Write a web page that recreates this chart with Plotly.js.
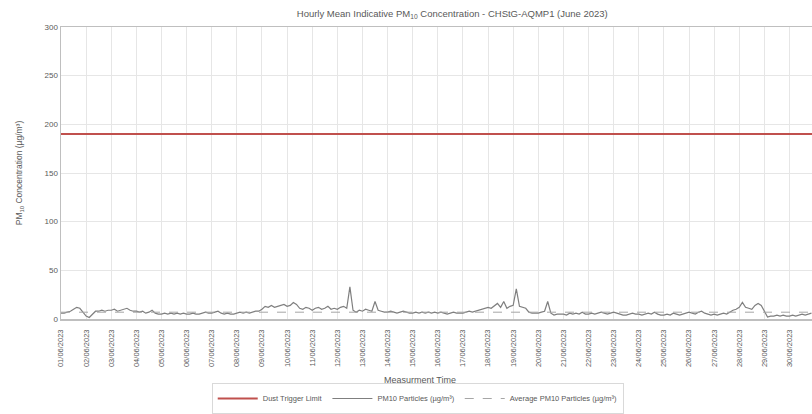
<!DOCTYPE html>
<html>
<head>
<meta charset="utf-8">
<script src="https://cdn.plot.ly/plotly-3.0.1.min.js"></script>
<style>html,body{margin:0;padding:0;background:#fff;}#chart{width:812px;height:414px;}</style>
</head>
<body>
<div id="chart"></div>
<script>
// Start of the series and sampling step (3-hourly readings)
const seriesStart = '2023-06-01T00:00:00';
const stepHours = 3;

// PM10 readings per day (8 readings per day, µg/m³)
const pm10Daily = [
  [6,6,7,8,10,12,11,7],        // 01/06
  [3,1.5,5,8,8,9,8,9],         // 02/06
  [9,10,8,9,10,11,9,8],        // 03/06
  [8,7,8,6,7,9,6,5],           // 04/06
  [5,6,5,6,5,6,5,6],           // 05/06
  [5,5,6,5,5,6,7,6],           // 06/06
  [6,7,8,6,5,6,5,5],           // 07/06
  [6,7,6,7,6,7,8,8],           // 08/06
  [10,13,12,14,12,13,14,15],   // 09/06
  [13,14,17,15,11,10,12,11],   // 10/06
  [9,11,12,10,11,13,10,11],    // 11/06
  [10,12,13,11,33,9,7,9],      // 12/06
  [8,10,9,8,18,9,8,7],         // 13/06
  [7,8,7,6,7,8,7,6],           // 14/06
  [6,7,6,7,6,7,6,7],           // 15/06
  [6,7,6,5,6,7,6,6],           // 16/06
  [6,7,8,7,8,9,10,11],         // 17/06
  [12,11,14,16,12,18,11,13],   // 18/06
  [14,31,13,12,11,7,6,6],      // 19/06
  [6,7,8,18,6,4,5,5],          // 20/06
  [5,4,6,5,6,5,7,5],           // 21/06
  [5,6,5,6,7,6,5,6],           // 22/06
  [7,6,5,4,4,5,6,5],           // 23/06
  [5,4,5,6,5,7,5,4],           // 24/06
  [4,5,4,6,5,4,5,6],           // 25/06
  [7,6,5,7,8,6,5,4],           // 26/06
  [5,4,5,6,5,7,9,10],          // 27/06
  [12,17,12,11,10,14,16,14],   // 28/06
  [8,2,3,3,4,3,4,3],           // 29/06
  [3,4,3,4,5,4,5,6]            // 30/06
];

const dustTriggerLimit = 190;
const averagePM10 = 7;
const rangeStart = '2023-06-01 00:00';
const rangeEnd = '2023-06-30 21:30';

const seriesNames = ['Dust Trigger Limit', 'PM10 Particles (µg/m³)', 'Average PM10 Particles (µg/m³)'];

// Build timestamps for the readings
const pm10Values = [].concat(...pm10Daily);
const t0 = new Date(seriesStart + 'Z').getTime();
const pm10Times = pm10Values.map((_, i) => {
  const d = new Date(t0 + i * stepHours * 3600000);
  return d.toISOString().slice(0, 16).replace('T', ' ');
});
const spanTimes = [rangeStart, rangeEnd];

const traces = [
  {x: spanTimes, y: spanTimes.map(() => dustTriggerLimit), name: seriesNames[0], mode: 'lines',
   line: {color: '#c0504d', width: 2}},
  {x: pm10Times, y: pm10Values, name: seriesNames[1], mode: 'lines',
   line: {color: '#7f7f7f', width: 1.2}},
  {x: spanTimes, y: spanTimes.map(() => averagePM10), name: seriesNames[2], mode: 'lines',
   line: {color: '#a6a6a6', width: 1, dash: 'dash'}}
];

const gray = '#595959';
const layout = {
  width: 812, height: 414,
  margin: {l: 61, r: 0, t: 27, b: 91},
  paper_bgcolor: '#fff', plot_bgcolor: '#fff',
  font: {family: 'Liberation Sans, Arial, sans-serif', color: gray, size: 8},
  title: {text: 'Hourly Mean Indicative PM<sub>10</sub> Concentration - CHStG-AQMP1 (June 2023)',
          font: {size: 9.5, color: gray}, xref: 'container', x: 0.557, xanchor: 'center',
          yref: 'container', y: 0.966, yanchor: 'middle'},
  xaxis: {type: 'date', range: [rangeStart, rangeEnd], dtick: 86400000, tick0: rangeStart,
          tickformat: '%d/%m/%Y', tickangle: -90, tickfont: {size: 7.5, color: gray},
          ticklabelstandoff: 6,
          showgrid: true, gridcolor: '#e6e6e6', gridwidth: 1, zeroline: false,
          showline: true, linecolor: '#bfbfbf', linewidth: 1.5, mirror: true, ticks: ''},
  yaxis: {range: [0, 300], dtick: 50, tickfont: {size: 8, color: gray},
          showgrid: true, gridcolor: '#e6e6e6', zeroline: false,
          showline: true, linecolor: '#bfbfbf', linewidth: 1.5, mirror: true, ticks: '',
          title: {text: 'PM<sub>10</sub> Concentration (µg/m³)', font: {size: 8.5, color: gray}, standoff: 20}},
  showlegend: true,
  legend: {orientation: 'h', x: 0.475, xanchor: 'center', y: -0.274, yanchor: 'middle',
           bordercolor: '#d9d9d9', borderwidth: 1, font: {size: 7.5, color: gray},
           itemwidth: 40},
  annotations: [
    {text: 'Measurment Time', xref: 'paper', yref: 'paper', x: 0.478, y: -0.209,
     xanchor: 'center', yanchor: 'middle', showarrow: false, font: {size: 9, color: gray}}
  ]
};

Plotly.newPlot('chart', traces, layout, {displayModeBar: false, staticPlot: true});
</script>
</body>
</html>
